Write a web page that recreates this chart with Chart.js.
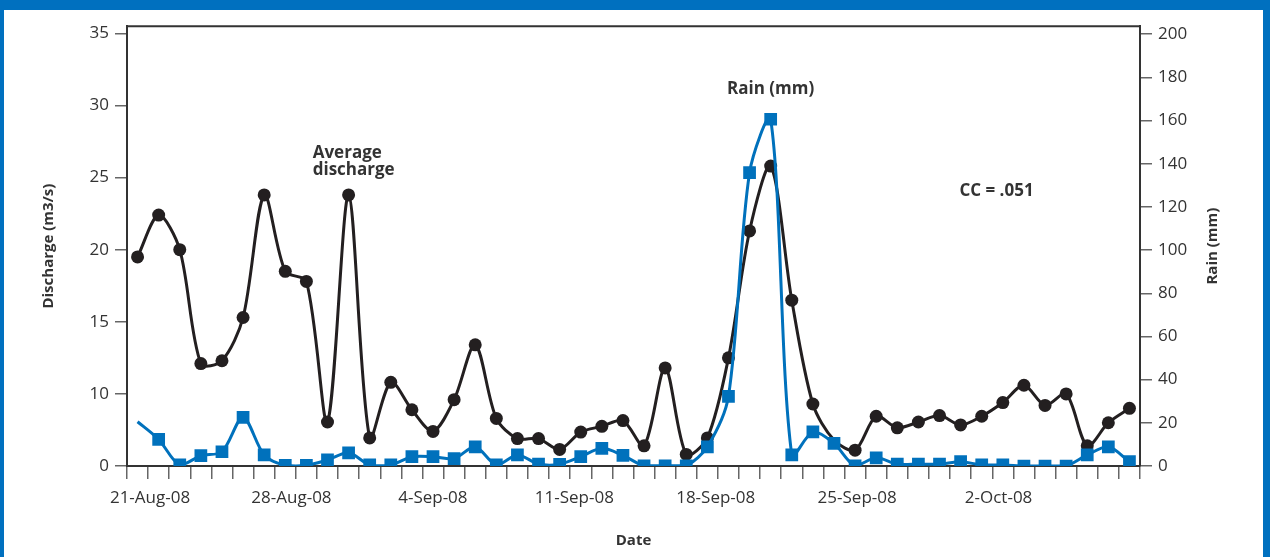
<!DOCTYPE html>
<html>
<head>
<meta charset="utf-8">
<script src="https://cdn.jsdelivr.net/npm/chart.js@4/dist/chart.umd.min.js"></script>
<style>
  html, body { margin: 0; padding: 0; background: #0070bf; width: 1270px; height: 557px; overflow: hidden; }
  #wrap { position: absolute; left: 4px; top: 10px; width: 1259px; height: 547px; background: #fff; }
</style>
</head>
<body>
<div id="wrap"><canvas id="grafica" width="1259" height="547"></canvas></div>
<script>
// categories (one point per day)
const fechas = [
  '21-Aug-08','22-Aug-08','23-Aug-08','24-Aug-08','25-Aug-08','26-Aug-08','27-Aug-08','28-Aug-08',
  '29-Aug-08','30-Aug-08','31-Aug-08','1-Sep-08','2-Sep-08','3-Sep-08','4-Sep-08','5-Sep-08',
  '6-Sep-08','7-Sep-08','8-Sep-08','9-Sep-08','10-Sep-08','11-Sep-08','12-Sep-08','13-Sep-08',
  '14-Sep-08','15-Sep-08','16-Sep-08','17-Sep-08','18-Sep-08','19-Sep-08','20-Sep-08','21-Sep-08',
  '22-Sep-08','23-Sep-08','24-Sep-08','25-Sep-08','26-Sep-08','27-Sep-08','28-Sep-08','29-Sep-08',
  '30-Sep-08','1-Oct-08','2-Oct-08','3-Oct-08','4-Oct-08','5-Oct-08','6-Oct-08','7-Oct-08'
];

// average discharge (m3/s), read against the printed left-axis labels
const descarga = [
  19.5, 22.4, 20.0, 12.1, 12.3, 15.3, 23.8, 18.5, 17.8, 6.1, 23.8, 3.9,
  10.8, 7.8, 4.8, 9.2, 13.4, 6.6, 3.8, 3.8, 2.3, 4.7, 5.5, 6.3,
  2.8, 11.8, 1.6, 3.9, 12.5, 21.3, 25.8, 16.5, 8.6, 3.6, 2.2, 6.9,
  5.3, 6.1, 7.0, 5.7, 6.9, 8.8, 10.6, 8.4, 10.0, 2.8, 6.0, 8.0
];

// rain (mm)
const lluvia = [
  20.5, 12.3, 0.5, 4.8, 6.6, 22.5, 5.1, 0.3, 0.3, 2.8, 6.1, 0.5,
  0.5, 4.3, 4.3, 3.4, 8.9, 0.5, 5.1, 0.9, 0.8, 4.3, 8.2, 4.9,
  0.1, 0.1, 0.1, 8.9, 32.3, 135.9, 160.6, 5.1, 15.8, 10.5, 0.1, 3.8,
  0.9, 0.9, 0.9, 2.0, 0.5, 0.5, 0, 0, 0, 5.1, 8.9, 2.0
];

// tick labels
const ticksDescarga = [0, 10, 15, 20, 25, 30, 35];   // the original axis has no "5"
const ticksLluvia = [0, 20, 40, 60, 80, 100, 120, 140, 160, 180, 200];
const etiquetasFecha = ['21-Aug-08', '28-Aug-08', '4-Sep-08', '11-Sep-08', '18-Sep-08', '25-Sep-08', '2-Oct-08'];
const diasFecha = [0, 7, 14, 21, 28, 35, 42];

// text written on the plot
const notas = [
  { lineas: ['Average', 'discharge'], x: 8.3, y: 26.7, eje: 'yDis', align: 'left' },
  { lineas: ['Rain (mm)'], x: 30, y: 174.6, eje: 'yRain', align: 'center' },
  { lineas: ['CC = .051'], x: 40.7, y: 127.5, eje: 'yRain', align: 'center' }
];

const AZUL = '#0071bc';
const NEGRO = '#231f20';
const GRIS = '#333333';

// left axis of the original is evenly spaced 0,10,15,...,35 (0-10 squeezed into one step)
class SkipScale extends Chart.LinearScale {
  static id = 'skip';
  static defaults = Chart.LinearScale.defaults;
  getPixelForValue(value) {
    const f = v => (v < 10 ? v / 2 : v - 5);
    return this.getPixelForDecimal((f(value) - f(this.min)) / (f(this.max) - f(this.min)));
  }
}
Chart.register(SkipScale);

Chart.defaults.font.family = "'Open Sans', 'DejaVu Sans', sans-serif";
Chart.defaults.color = GRIS;

const notasPlugin = {
  id: 'notas',
  afterDraw(chart) {
    const { ctx, chartArea, scales } = chart;
    ctx.save();
    // top frame line
    ctx.strokeStyle = GRIS;
    ctx.lineWidth = 2;
    ctx.beginPath();
    ctx.moveTo(chartArea.left, chartArea.top);
    ctx.lineTo(chartArea.right, chartArea.top);
    ctx.stroke();

    ctx.fillStyle = GRIS;
    ctx.font = "bold 17px 'Open Sans', sans-serif";
    ctx.textBaseline = 'middle';
    notas.forEach(n => {
      const x = scales.x.getPixelForValue(n.x);
      const y = scales[n.eje].getPixelForValue(n.y);
      ctx.textAlign = n.align;
      n.lineas.forEach((t, i) => ctx.fillText(t, x, y + i * 17));
    });

    // right axis title reads bottom-to-top like the left one
    ctx.font = "bold 15px 'Open Sans', sans-serif";
    ctx.translate(scales.yRain.right - 50, (chartArea.top + chartArea.bottom) / 2);
    ctx.rotate(-Math.PI / 2);
    ctx.textAlign = 'center';
    ctx.fillText('Rain (mm)', 0, 0);
    ctx.restore();
  }
};

const ejeY = {
  grid: { drawOnChartArea: false, tickLength: 12, color: '#666', lineWidth: 1.5 },
  border: { color: GRIS, width: 2 },
  ticks: { font: { size: 17 }, color: GRIS, padding: 6, callback: v => v }
};

new Chart(document.getElementById('grafica'), {
  type: 'line',
  data: {
    labels: fechas,
    datasets: [
      {
        label: 'Average discharge',
        data: descarga,
        yAxisID: 'yDis',
        order: 2,
        borderColor: NEGRO,
        backgroundColor: NEGRO,
        borderWidth: 3,
        tension: 0.3,
        pointStyle: 'circle',
        pointRadius: ctx => (ctx.dataIndex === 33 ? 0 : 6.5),
        pointBorderWidth: 0
      },
      {
        label: 'Rain (mm)',
        data: lluvia,
        yAxisID: 'yRain',
        order: 1,
        borderColor: AZUL,
        backgroundColor: AZUL,
        borderWidth: 3,
        tension: 0.3,
        pointStyle: 'rect',
        pointRadius: ctx => (ctx.dataIndex === 0 ? 0 : 9),
        pointBorderWidth: 0
      }
    ]
  },
  options: {
    responsive: false,
    animation: false,
    layout: { padding: { top: 15, left: 0, right: 0, bottom: 0 } },
    plugins: {
      legend: { display: false },
      tooltip: { enabled: false }
    },
    scales: {
      x: {
        type: 'category',
        position: 'bottom',
        weight: 0,
        offset: true,
        grid: { offset: true, drawOnChartArea: false, tickLength: 13, color: '#666', lineWidth: 1.5 },
        border: { color: GRIS, width: 2 },
        ticks: { display: false },
        afterFit: s => { s.height = 14; }
      },
      xDate: {
        type: 'linear',
        position: 'bottom',
        weight: 1,
        min: -1.14,
        max: 49,
        grid: { display: false, drawTicks: false },
        border: { display: false },
        afterBuildTicks: s => { s.ticks = diasFecha.map(v => ({ value: v })); },
        ticks: {
          font: { size: 17 }, color: GRIS, padding: 8, autoSkip: false, maxRotation: 0,
          callback: (v, i) => etiquetasFecha[i]
        },
        title: { display: true, text: 'Date', font: { size: 15, weight: 'bold' }, color: GRIS, padding: { bottom: 7 } },
        afterFit: s => { s.height = 77; }
      },
      yDis: {
        ...ejeY,
        type: 'skip',
        position: 'left',
        min: 0,
        max: 35.5,
        afterBuildTicks: s => { s.ticks = ticksDescarga.map(v => ({ value: v })); },
        title: { display: true, text: 'Discharge (m3/s)', font: { size: 15, weight: 'bold' }, color: GRIS, padding: { top: 36 } },
        afterFit: s => { s.width = 123; }
      },
      yRain: {
        ...ejeY,
        type: 'linear',
        position: 'right',
        min: 0,
        max: 203.7,
        afterBuildTicks: s => { s.ticks = ticksLluvia.map(v => ({ value: v })); },
        afterFit: s => { s.width = 123; }
      }
    }
  },
  plugins: [notasPlugin]
});
</script>
</body>
</html>
